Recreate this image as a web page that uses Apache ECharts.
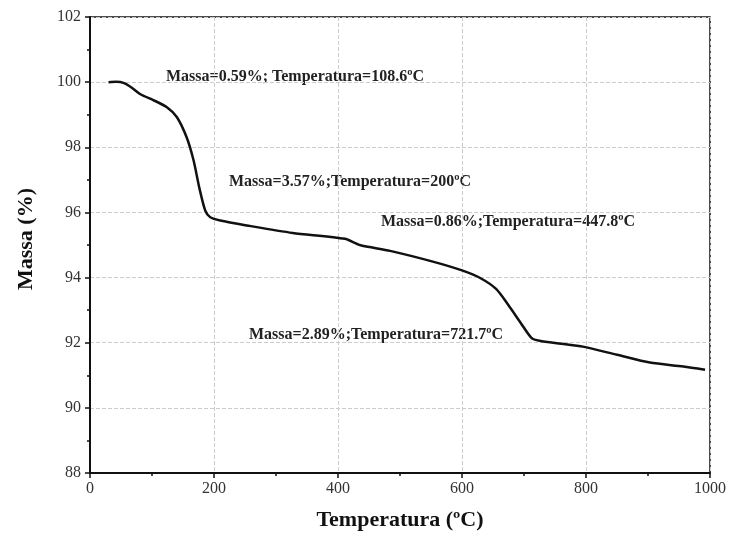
<!DOCTYPE html>
<html>
<head>
<meta charset="utf-8">
<script src="https://cdn.jsdelivr.net/npm/echarts@6/dist/echarts.min.js"></script>
<style>html,body{margin:0;padding:0;background:#fff;}#c{width:731px;height:536px;}</style>
</head>
<body>
<div id="c"></div>
<script>
const temperatura = [30, 42, 55, 68, 82, 102, 124, 140, 156, 167, 177, 186, 194, 210, 253, 327, 411, 435, 484, 553, 600, 630, 655, 675, 695, 712, 725, 760, 795, 850, 903, 957, 992];
const massa = [100.0, 100.01, 99.97, 99.82, 99.62, 99.45, 99.23, 98.93, 98.3, 97.6, 96.7, 96.05, 95.85, 95.75, 95.6, 95.37, 95.19, 95.0, 94.82, 94.49, 94.22, 93.98, 93.65, 93.15, 92.6, 92.15, 92.06, 91.97, 91.88, 91.63, 91.39, 91.27, 91.17];
const xTicks = [0, 200, 400, 600, 800, 1000];
const yTicks = [88, 90, 92, 94, 96, 98, 100, 102];
const anotacoes = [
  'Massa=0.59%; Temperatura=108.6ºC',
  'Massa=3.57%;Temperatura=200ºC',
  'Massa=0.86%;Temperatura=447.8ºC',
  'Massa=2.89%;Temperatura=721.7ºC'
];
const anotPos = [[166, 78], [229, 183], [381, 223], [249, 336]];

const serif = '"Liberation Serif","DejaVu Serif",serif';
const chart = echarts.init(document.getElementById('c'));
chart.setOption({
  backgroundColor: '#fff',
  animation: false,
  grid: { left: 90, right: 21, top: 17, bottom: 62, show: true, borderColor: '#111', borderWidth: 1.5, backgroundColor: 'transparent' },
  xAxis: {
    type: 'value', min: xTicks[0], max: xTicks[xTicks.length - 1], interval: 200,
    name: 'Temperatura (ºC)', nameLocation: 'middle', nameGap: 36,
    nameTextStyle: { fontFamily: serif, fontWeight: 'bold', fontSize: 22, color: '#111' },
    axisLine: { lineStyle: { color: '#111', width: 2 } },
    axisTick: { show: true, length: 5, lineStyle: { color: '#111', width: 1.5 } },
    minorTick: { show: true, splitNumber: 2, length: 3, lineStyle: { color: '#111', width: 1.5 } },
    axisLabel: { fontFamily: serif, fontSize: 16, color: '#333', margin: 8, formatter: v => String(v) },
    splitLine: { show: true, lineStyle: { color: '#ccc', type: 'dashed', width: 1 } }
  },
  yAxis: {
    type: 'value', min: yTicks[0], max: yTicks[yTicks.length - 1], interval: 2,
    axisLine: { show: true, lineStyle: { color: '#111', width: 2 } },
    axisTick: { show: true, length: 5, lineStyle: { color: '#111', width: 1.5 } },
    minorTick: { show: true, splitNumber: 2, length: 3, lineStyle: { color: '#111', width: 1.5 } },
    axisLabel: { fontFamily: serif, fontSize: 16, color: '#333', margin: 9, formatter: v => String(v) },
    splitLine: { show: true, lineStyle: { color: '#ccc', type: 'dashed', width: 1 } }
  },
  series: [{
    type: 'line', smooth: 0.25, symbol: 'none',
    lineStyle: { color: '#111', width: 2.5 },
    data: temperatura.map((t, i) => [t, massa[i]])
  }],
  graphic: anotacoes.map((txt, i) => ({
    type: 'text', left: anotPos[i][0], top: anotPos[i][1] - 9,
    style: { text: txt, font: 'bold 16px ' + serif, fill: '#222' }
  })).concat([{
    type: 'text', x: 26, y: 239, rotation: Math.PI / 2,
    style: { text: 'Massa (%)', font: 'bold 22px ' + serif, fill: '#111', align: 'center', verticalAlign: 'middle' }
  }])
});
</script>
</body>
</html>
